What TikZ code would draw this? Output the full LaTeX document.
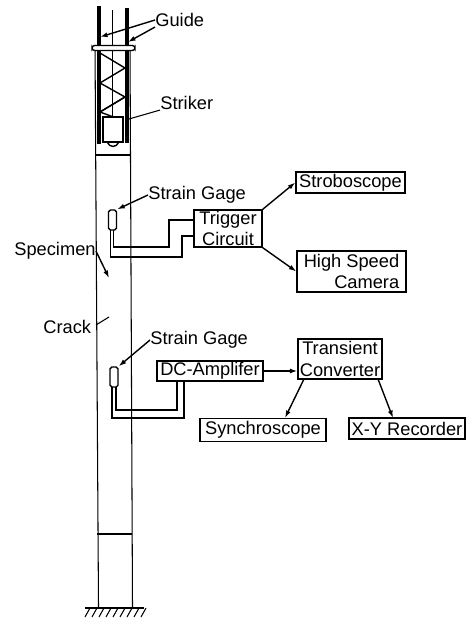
\documentclass[tikz,border=0pt]{standalone}
\usepackage{fontspec}
\setmainfont{Liberation Sans}
\usetikzlibrary{arrows.meta}

\tikzset{
  lbl/.style={font=\fontsize{10.4}{12}\selectfont, inner sep=0pt},
  block/.style={draw, thick, lbl, align=center, inner sep=0pt},
  lead/.style={thick, -{Latex[length=1.5mm,width=1mm]}},
  wire/.style={semithick},
  rod/.style={line width=2.2pt}
}

\begin{document}
\begin{tikzpicture}[x=0.02cm,y=-0.02cm]
\useasboundingbox (0,0) rectangle (466,621);

% specimen
\draw[semithick] (95,45) -- (98.5,607);
\draw[semithick] (130,45) -- (132.5,607);
\draw[thick] (97,534) -- (132,534);
\draw[line width=1.3pt] (95,155) -- (130,155);

% guide rods and collar
\draw[rod] (99,6) -- (99,144);
\draw[rod] (127,8) -- (127,143);
\draw[thin] (112.5,10) -- (112.5,117);
\draw[thick, fill=white, rounded corners=1.5pt] (92,45.5) rectangle (135,50.5);

% spring
\draw[thick] (100,53) -- (125,68) -- (100,83) -- (125,97) -- (100,112);
\draw[thick] (100,112) -- (125,97);
\draw[thick] (100,112) -- (116,118);

% striker
\draw[thick, fill=white] (103,117) rectangle (123,142);
\draw[thick] (107,142) .. controls (110,148) and (116,148) .. (119,142);

% ground
\draw[thick] (85,608) -- (144,608);
\foreach \x in {90,97,...,146}
  \draw[semithick] (\x,608) -- (\x-5,617);

% labels on the left and top
\node[lbl, anchor=west] at (155,20) (guide) {Guide};
\node[lbl, anchor=west] at (160,103) (striker) {Striker};
\node[lbl, anchor=west] at (148,195) (gagea) {Strain Gage};
\node[lbl, anchor=west] at (150,340) (gageb) {Strain Gage};
\node[lbl, anchor=west] at (14,251) (specimen) {Specimen};
\node[lbl, anchor=west] at (43,327) (crack) {Crack};

\coordinate (guidel) at (100,37);
\coordinate (guider) at (128,42);
\coordinate (strikerp) at (129,119);
\coordinate (specimenp) at (109,278);
\coordinate (cracks) at (96,325);
\coordinate (crackp) at (109,317);

\draw[lead] (guide.west) -- (guidel);
\draw[lead] (guide.south west) -- (guider);
\draw[semithick] (striker.south west) -- (strikerp);
\draw[lead] (specimen.east) -- (specimenp);
\draw[semithick] (cracks) -- (crackp);

% strain gages
\node[draw, thick, rounded corners=1pt, minimum width=8*0.569pt, minimum height=20*0.569pt, inner sep=0pt] at (112.5,220) (sga) {};
\node[draw, thick, rounded corners=1pt, minimum width=8*0.569pt, minimum height=20*0.569pt, inner sep=0pt] at (114,377) (sgb) {};
\draw[lead] (gagea.west) -- (sga.north east);
\draw[lead] (gageb.west) -- (sgb.north east);

% boxes
\node[block, minimum width=68*0.569pt, minimum height=37*0.569pt] at (228,228.5) (trigger) {Trigger\\Circuit};
\node[block, minimum width=109*0.569pt, minimum height=21*0.569pt] at (350.5,182.5) (strobo) {Stroboscope};
\node[block, align=right, minimum width=109*0.569pt, minimum height=41*0.569pt] at (351.5,271.5) (camera) {High Speed\\Camera};
\node[block, minimum width=106*0.569pt, minimum height=20*0.569pt] at (210,371) (amp) {DC-Amplifer};
\node[block, minimum width=84*0.569pt, minimum height=40*0.569pt] at (340,359) (conv) {Transient\\Converter};
\node[block, minimum width=126*0.569pt, minimum height=23*0.569pt] at (263,430) (synchro) {Synchroscope};
\node[block, minimum width=116*0.569pt, minimum height=21*0.569pt] at (407,428.5) (xy) {X-Y Recorder};

% wires
\coordinate (ta) at (194,220);
\coordinate (tb) at (194,236);
\coordinate (ga) at (113.5,230);
\coordinate (gb) at (110.5,230);
\draw[wire] (ga) -- (113.5,247) -- (169,247) -- (169,220) -- (ta);
\draw[wire] (gb) -- (110.5,257) -- (182,257) -- (182,236) -- (tb);

\coordinate (aa) at (177,381);
\coordinate (ab) at (184,381);
\coordinate (gc) at (116,387);
\coordinate (gd) at (112,387);
\draw[wire] (gc) -- (116,410) -- (177,410) -- (aa);
\draw[wire] (gd) -- (112,418) -- (184,418) -- (ab);

% arrows between the boxes
\coordinate (cs) at (304,379);
\coordinate (cx) at (378,379);
\coordinate (syp) at (285,418);
\coordinate (xyp) at (393,418);
\draw[lead] (trigger.north east) -- (strobo.west);
\draw[lead] (trigger.south east) -- (camera.west);
\draw[lead] (amp.east) -- (conv.west |- amp.east);
\draw[lead] (cs) -- (syp);
\draw[lead] (cx) -- (xyp);

\end{tikzpicture}
\end{document}
